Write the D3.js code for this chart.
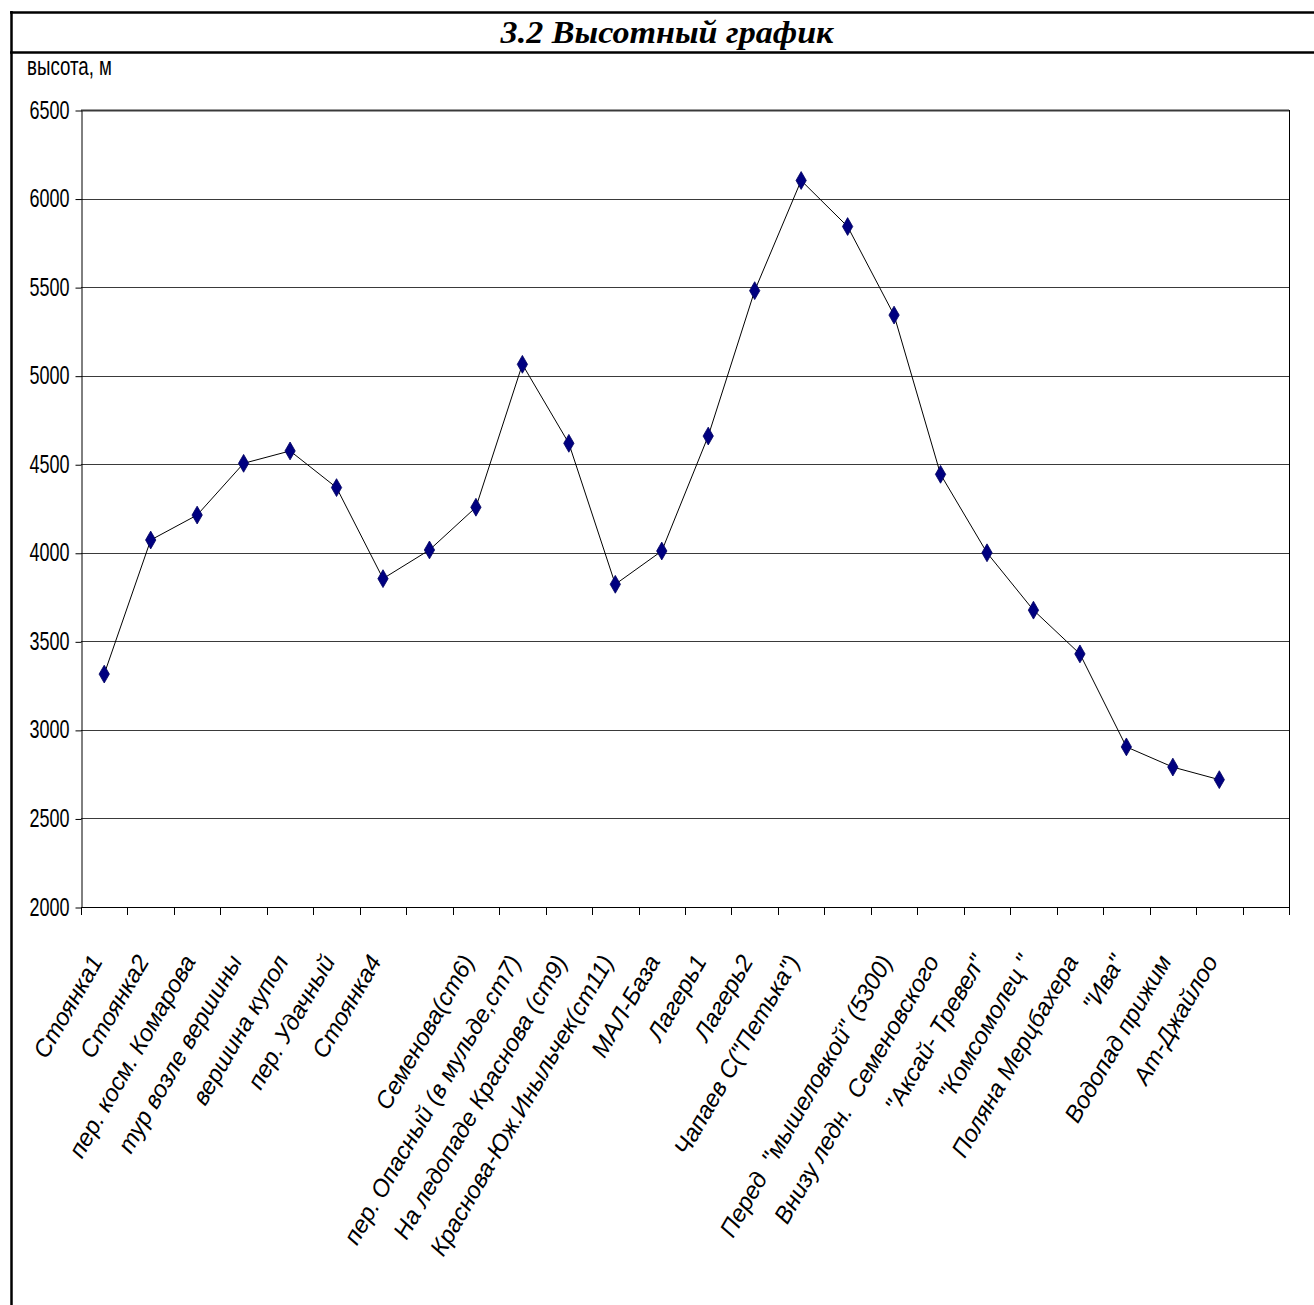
<!DOCTYPE html>
<html>
<head>
<meta charset="utf-8">
<script src="https://cdn.jsdelivr.net/npm/d3@7"></script>
<style>
  body { margin: 0; background: #fff; }
  svg { display: block; }
  .xlab { white-space: pre; }
</style>
</head>
<body>
<svg id="chart" width="1314" height="1305"></svg>
<script>
// категории (пустые подписи оставлены как в исходной таблице)
var labels = [
    "Стоянка1", "Стоянка2", "пер. косм. Комарова", "тур возле вершины",
    "вершина купол", "пер. Удачный", "Стоянка4", "",
    "Семенова(ст6)", "пер. Опасный (в мульде,ст7)", "На ледопаде Краснова (ст9)",
    "Краснова-Юж.Иныльчек(ст11)", "МАЛ-База", "Лагерь1", "Лагерь2",
    "Чапаев С(\"Петька\")", "", "Перед  \"мышеловкой\" (5300)",
    "Внизу ледн.  Семеновского", "\"Аксай- Тревел\"", "\"Комсомолец \"",
    "Поляна Мерцбахера", "\"Ива\"", "Водопад прижим", "Ат-Джайлоо", ""
]
// высота, м
var heights = [
    3315, 4072, 4213, 4505, 4575, 4368, 3854, 4016, 4257, 5064, 4618,
    3822, 4010, 4659, 5480, 6102, 5842, 5342, 4443, 4000, 3676, 3429,
    2904, 2790, 2719, null
]
var yTicks = [2000, 2500, 3000, 3500, 4000, 4500, 5000, 5500, 6000, 6500]

function draw() {
    var svg = d3.select("#chart")
    var pLeft = 81, pRight = 1289, pTop = 110, pBottom = 907

    // рамка документа и заголовок
    svg.append("line").attr("x1", 11.5).attr("x2", 11.5).attr("y1", 11).attr("y2", 1305)
        .attr("stroke", "#000").attr("stroke-width", 2.5)
    svg.append("line").attr("x1", 10).attr("x2", 1314).attr("y1", 12.5).attr("y2", 12.5)
        .attr("stroke", "#000").attr("stroke-width", 2.5)
    svg.append("line").attr("x1", 10).attr("x2", 1314).attr("y1", 52.5).attr("y2", 52.5)
        .attr("stroke", "#000").attr("stroke-width", 2.5)
    svg.append("text")
        .attr("transform", "translate(667,43) scale(1.1,1)")
        .attr("text-anchor", "middle")
        .style("font-family", "'Liberation Serif', 'Times New Roman', serif")
        .style("font-weight", "bold").style("font-style", "italic")
        .style("font-size", "31px")
        .text("3.2 Высотный график")

    var x = d3.scaleBand()
        .domain(d3.range(labels.length))
        .range([pLeft, pRight])
        .padding(0)
    var y = d3.scaleLinear().domain([2000, 6500]).range([pBottom, pTop])
    var cx = function (i) { return x(i) + x.bandwidth() / 2 }

    // сетка
    svg.append("g")
        .selectAll("line")
        .data(yTicks)
        .enter()
        .append("line")
        .attr("x1", pLeft).attr("x2", pRight)
        .attr("y1", function (d) { return Math.round(y(d)) + 0.5 })
        .attr("y2", function (d) { return Math.round(y(d)) + 0.5 })
        .attr("stroke", "#3a3a3a")
        .attr("stroke-width", function (d) { return d == 6500 ? 1.8 : 1 })

    // ось Y
    var yAxis = svg.append("g")
        .attr("transform", "translate(" + (pLeft + 0.5) + ",0.5)")
        .call(d3.axisLeft(y).tickValues(yTicks).tickSize(6).tickSizeOuter(0).tickFormat(d3.format("d")))
    yAxis.select(".domain").attr("stroke", "#000")
    yAxis.selectAll(".tick line").attr("stroke", "#000")
    yAxis.selectAll(".tick text")
        .attr("x", -12 / 0.72)
        .attr("dy", "0.3em")
        .attr("transform", "scale(0.72,1)")
        .attr("fill", "#000")
        .style("font-family", "'Liberation Sans', Arial, sans-serif")
        .style("font-size", "25px")

    svg.append("text")
        .attr("transform", "translate(27,75) scale(0.72,1)")
        .style("font-family", "'Liberation Sans', Arial, sans-serif")
        .style("font-size", "26px")
        .text("высота, м")

    // правая граница области построения
    svg.append("line")
        .attr("x1", pRight + 0.5).attr("x2", pRight + 0.5)
        .attr("y1", pTop).attr("y2", pBottom + 8)
        .attr("stroke", "#000")

    // ось X: линия и засечки на границах категорий
    svg.append("line")
        .attr("x1", pLeft).attr("x2", pRight + 1)
        .attr("y1", pBottom + 0.5).attr("y2", pBottom + 0.5)
        .attr("stroke", "#000")
    svg.append("g")
        .selectAll("line")
        .data(d3.range(labels.length + 1))
        .enter()
        .append("line")
        .attr("x1", function (i) { return Math.round(pLeft + i * x.step()) + 0.5 })
        .attr("x2", function (i) { return Math.round(pLeft + i * x.step()) + 0.5 })
        .attr("y1", pBottom).attr("y2", pBottom + 8)
        .attr("stroke", "#000")

    svg.append("g")
        .selectAll("text")
        .data(labels)
        .enter()
        .append("text")
        .attr("class", "xlab")
        .attr("transform", function (d, i) {
            return "translate(" + (cx(i) - 8) + "," + (pBottom + 50) + ") rotate(-60)"
        })
        .attr("text-anchor", "end")
        .attr("dy", "0.35em")
        .style("font-family", "'Liberation Sans', Arial, sans-serif")
        .style("font-style", "italic")
        .style("font-size", "24px")
        .text(function (d) { return d })

    // линия профиля
    var pts = heights.map(function (h, i) { return { i: i, h: h } })
    var line = d3.line()
        .defined(function (d) { return d.h != null })
        .x(function (d) { return cx(d.i) })
        .y(function (d) { return y(d.h) })
    svg.append("path")
        .datum(pts)
        .attr("d", line)
        .attr("fill", "none")
        .attr("stroke", "#000")
        .attr("stroke-width", 1)

    // маркеры-ромбы
    var diamond = d3.symbol().type(d3.symbolDiamond).size(92)
    svg.append("g")
        .selectAll("path")
        .data(pts.filter(function (d) { return d.h != null }))
        .enter()
        .append("path")
        .attr("d", diamond)
        .attr("transform", function (d) {
            return "translate(" + cx(d.i) + "," + y(d.h) + ")"
        })
        .attr("fill", "#000080")
        .attr("stroke", "#000060")
        .attr("stroke-width", 0.8)
}
draw()
</script>
</body>
</html>
